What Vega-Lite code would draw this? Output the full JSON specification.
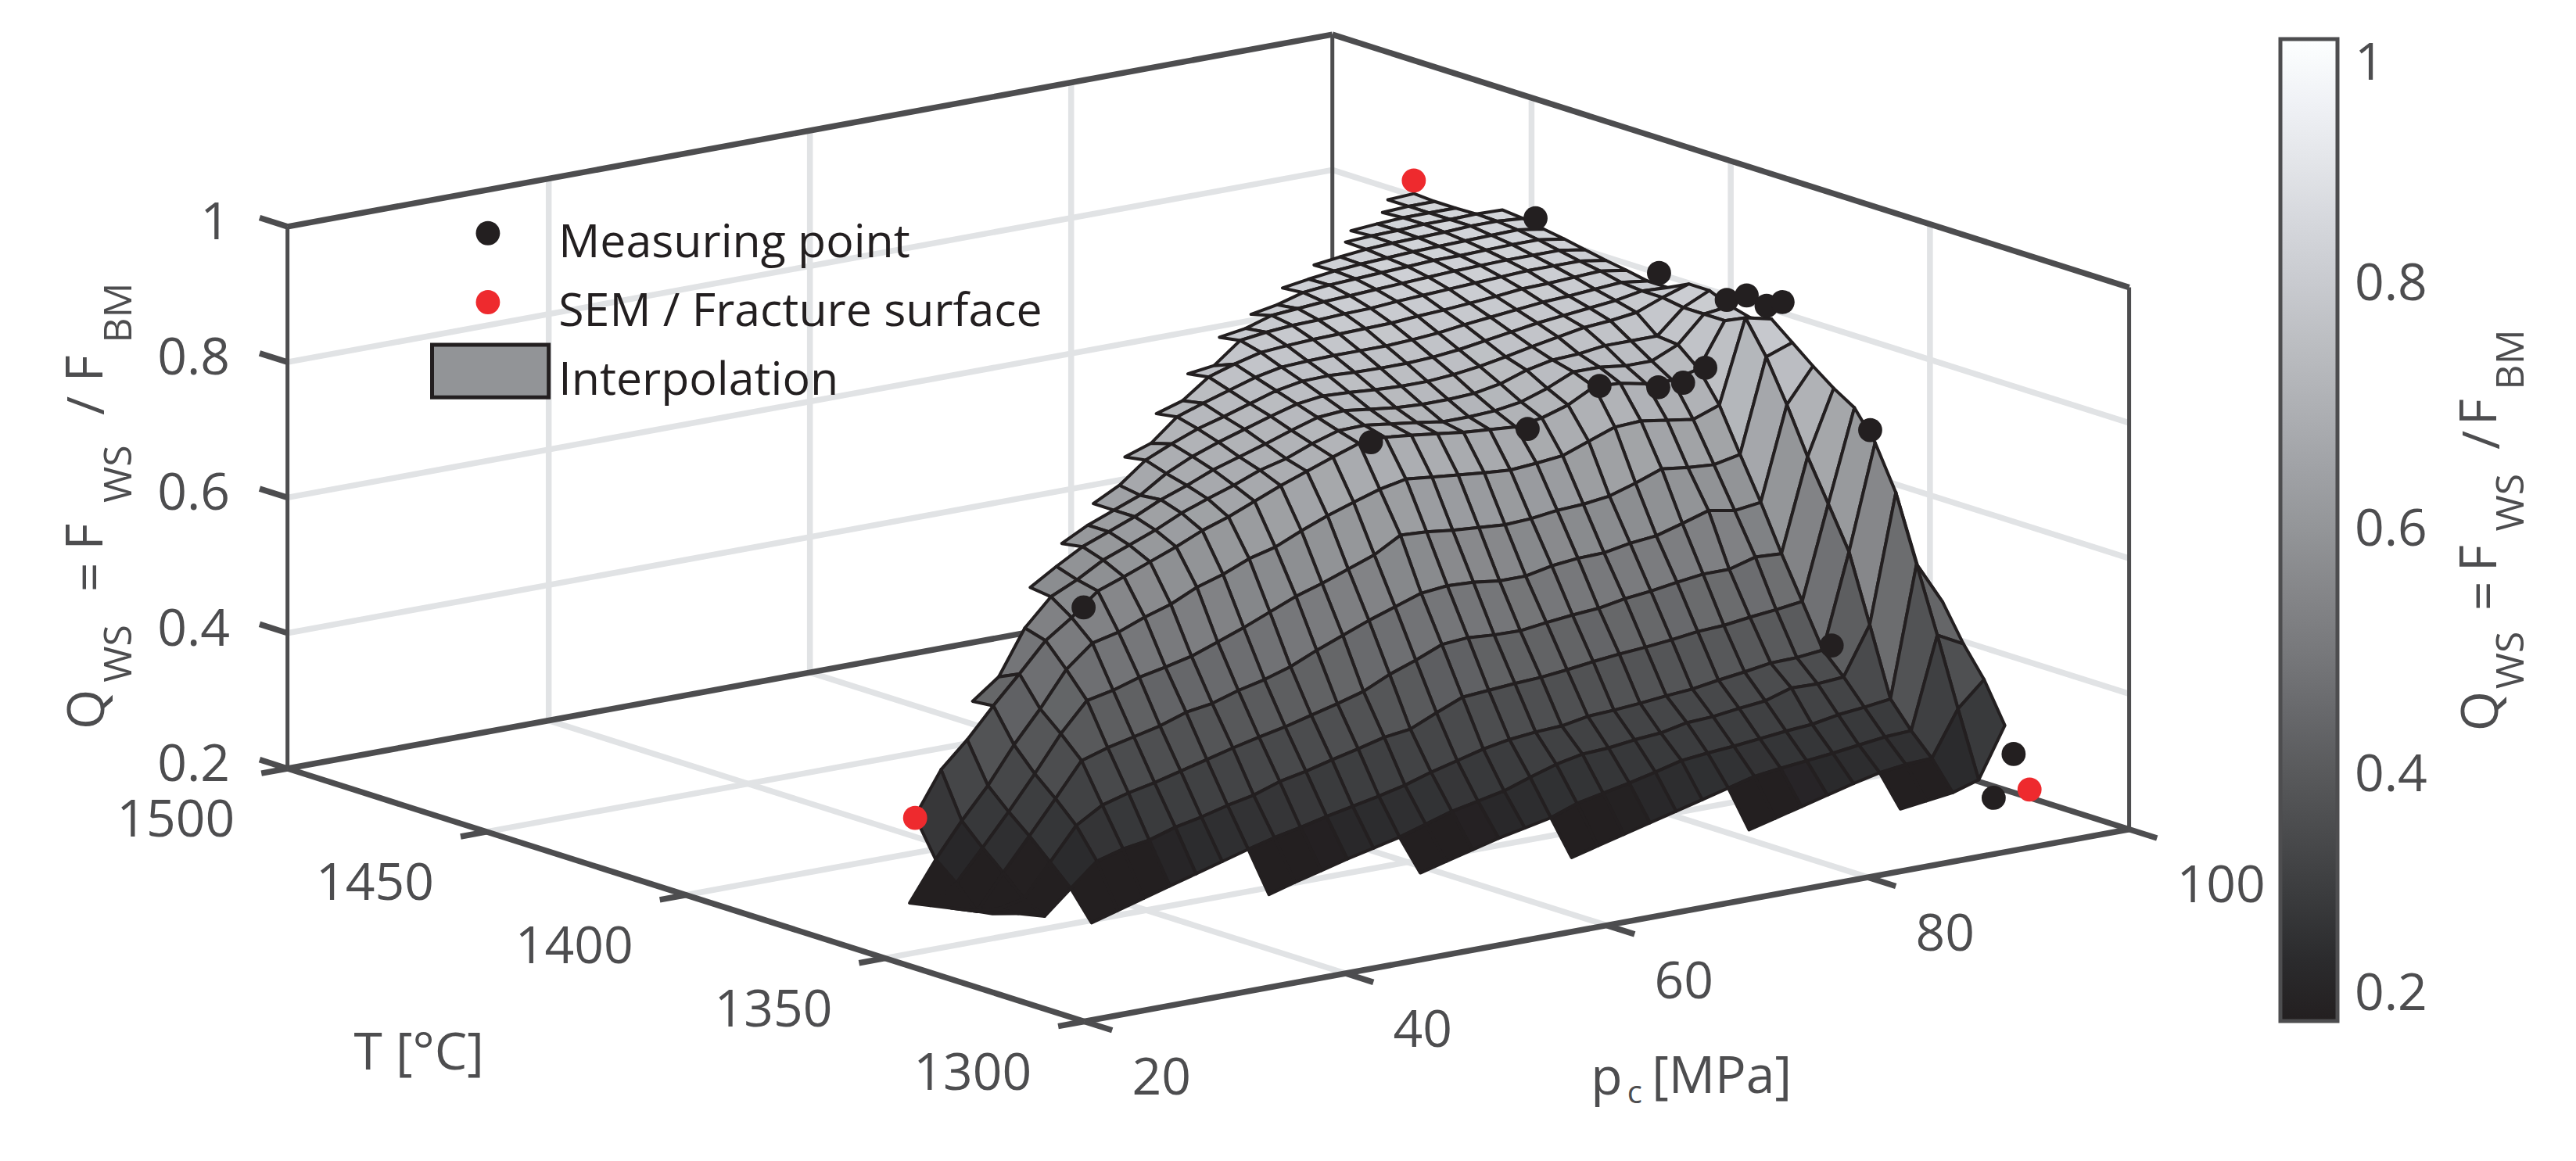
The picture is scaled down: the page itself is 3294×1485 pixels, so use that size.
{"$schema":"https://vega.github.io/schema/vega-lite/v6.json","width":3294,"height":1485,"padding":0,"autosize":{"type":"fit","contains":"padding"},"background":"white","config":{"axis":{"disable":true},"view":{"stroke":null},"text":{"font":"Open Sans"}},
"datasets":{
"surface":[
{"p":96,"T":1466.4,"Q":0.842},{"p":94,"T":1466.4,"Q":0.84},
{"p":96,"T":1461.2,"Q":0.84},{"p":94,"T":1461.2,"Q":0.84},{"p":92,"T":1461.2,"Q":0.838},
{"p":96,"T":1456,"Q":0.84},{"p":94,"T":1456,"Q":0.84},{"p":92,"T":1456,"Q":0.84},{"p":90,"T":1456,"Q":0.838},{"p":88,"T":1456,"Q":0.835},
{"p":98,"T":1450.8,"Q":0.84},{"p":96,"T":1450.8,"Q":0.841},{"p":94,"T":1450.8,"Q":0.84},{"p":92,"T":1450.8,"Q":0.84},{"p":90,"T":1450.8,"Q":0.838},{"p":88,"T":1450.8,"Q":0.837},{"p":86,"T":1450.8,"Q":0.835},
{"p":98,"T":1445.6,"Q":0.837},{"p":96,"T":1445.6,"Q":0.84},{"p":94,"T":1445.6,"Q":0.84},{"p":92,"T":1445.6,"Q":0.838},{"p":90,"T":1445.6,"Q":0.837},{"p":88,"T":1445.6,"Q":0.836},{"p":86,"T":1445.6,"Q":0.834},{"p":84,"T":1445.6,"Q":0.83},{"p":82,"T":1445.6,"Q":0.825},
{"p":98,"T":1440.4,"Q":0.831},{"p":96,"T":1440.4,"Q":0.837},{"p":94,"T":1440.4,"Q":0.836},{"p":92,"T":1440.4,"Q":0.835},{"p":90,"T":1440.4,"Q":0.834},{"p":88,"T":1440.4,"Q":0.833},{"p":86,"T":1440.4,"Q":0.831},{"p":84,"T":1440.4,"Q":0.829},{"p":82,"T":1440.4,"Q":0.826},{"p":80,"T":1440.4,"Q":0.821},{"p":78,"T":1440.4,"Q":0.815},
{"p":98,"T":1435.2,"Q":0.826},{"p":96,"T":1435.2,"Q":0.832},{"p":94,"T":1435.2,"Q":0.832},{"p":92,"T":1435.2,"Q":0.831},{"p":90,"T":1435.2,"Q":0.83},{"p":88,"T":1435.2,"Q":0.83},{"p":86,"T":1435.2,"Q":0.828},{"p":84,"T":1435.2,"Q":0.826},{"p":82,"T":1435.2,"Q":0.824},{"p":80,"T":1435.2,"Q":0.822},{"p":78,"T":1435.2,"Q":0.818},{"p":76,"T":1435.2,"Q":0.807},{"p":74,"T":1435.2,"Q":0.8},
{"p":98,"T":1430,"Q":0.82},{"p":96,"T":1430,"Q":0.826},{"p":94,"T":1430,"Q":0.826},{"p":92,"T":1430,"Q":0.826},{"p":90,"T":1430,"Q":0.825},{"p":88,"T":1430,"Q":0.824},{"p":86,"T":1430,"Q":0.822},{"p":84,"T":1430,"Q":0.82},{"p":82,"T":1430,"Q":0.818},{"p":80,"T":1430,"Q":0.816},{"p":78,"T":1430,"Q":0.814},{"p":76,"T":1430,"Q":0.811},{"p":74,"T":1430,"Q":0.808},{"p":72,"T":1430,"Q":0.796},{"p":70,"T":1430,"Q":0.79},
{"p":98,"T":1424.8,"Q":0.814},{"p":96,"T":1424.8,"Q":0.82},{"p":94,"T":1424.8,"Q":0.82},{"p":92,"T":1424.8,"Q":0.82},{"p":90,"T":1424.8,"Q":0.818},{"p":88,"T":1424.8,"Q":0.816},{"p":86,"T":1424.8,"Q":0.814},{"p":84,"T":1424.8,"Q":0.812},{"p":82,"T":1424.8,"Q":0.81},{"p":80,"T":1424.8,"Q":0.807},{"p":78,"T":1424.8,"Q":0.806},{"p":76,"T":1424.8,"Q":0.804},{"p":74,"T":1424.8,"Q":0.803},{"p":72,"T":1424.8,"Q":0.8},{"p":70,"T":1424.8,"Q":0.795},{"p":68,"T":1424.8,"Q":0.765},{"p":66,"T":1424.8,"Q":0.76},
{"p":98,"T":1419.6,"Q":0.809},{"p":96,"T":1419.6,"Q":0.815},{"p":94,"T":1419.6,"Q":0.813},{"p":92,"T":1419.6,"Q":0.811},{"p":90,"T":1419.6,"Q":0.81},{"p":88,"T":1419.6,"Q":0.806},{"p":86,"T":1419.6,"Q":0.803},{"p":84,"T":1419.6,"Q":0.8},{"p":82,"T":1419.6,"Q":0.798},{"p":80,"T":1419.6,"Q":0.795},{"p":78,"T":1419.6,"Q":0.794},{"p":76,"T":1419.6,"Q":0.793},{"p":74,"T":1419.6,"Q":0.792},{"p":72,"T":1419.6,"Q":0.79},{"p":70,"T":1419.6,"Q":0.787},{"p":68,"T":1419.6,"Q":0.777},{"p":66,"T":1419.6,"Q":0.765},{"p":64,"T":1419.6,"Q":0.737},{"p":62,"T":1419.6,"Q":0.725},
{"p":98,"T":1414.4,"Q":0.803},{"p":96,"T":1414.4,"Q":0.808},{"p":94,"T":1414.4,"Q":0.805},{"p":92,"T":1414.4,"Q":0.802},{"p":90,"T":1414.4,"Q":0.8},{"p":88,"T":1414.4,"Q":0.796},{"p":86,"T":1414.4,"Q":0.792},{"p":84,"T":1414.4,"Q":0.788},{"p":82,"T":1414.4,"Q":0.783},{"p":80,"T":1414.4,"Q":0.78},{"p":78,"T":1414.4,"Q":0.778},{"p":76,"T":1414.4,"Q":0.778},{"p":74,"T":1414.4,"Q":0.778},{"p":72,"T":1414.4,"Q":0.777},{"p":70,"T":1414.4,"Q":0.775},{"p":68,"T":1414.4,"Q":0.767},{"p":66,"T":1414.4,"Q":0.755},{"p":64,"T":1414.4,"Q":0.743},{"p":62,"T":1414.4,"Q":0.73},{"p":60,"T":1414.4,"Q":0.698},{"p":58,"T":1414.4,"Q":0.685},
{"p":98,"T":1409.2,"Q":0.803},{"p":96,"T":1409.2,"Q":0.805},{"p":94,"T":1409.2,"Q":0.798},{"p":92,"T":1409.2,"Q":0.794},{"p":90,"T":1409.2,"Q":0.79},{"p":88,"T":1409.2,"Q":0.786},{"p":86,"T":1409.2,"Q":0.78},{"p":84,"T":1409.2,"Q":0.774},{"p":82,"T":1409.2,"Q":0.768},{"p":80,"T":1409.2,"Q":0.764},{"p":78,"T":1409.2,"Q":0.762},{"p":76,"T":1409.2,"Q":0.762},{"p":74,"T":1409.2,"Q":0.763},{"p":72,"T":1409.2,"Q":0.765},{"p":70,"T":1409.2,"Q":0.764},{"p":68,"T":1409.2,"Q":0.757},{"p":66,"T":1409.2,"Q":0.745},{"p":64,"T":1409.2,"Q":0.733},{"p":62,"T":1409.2,"Q":0.722},{"p":60,"T":1409.2,"Q":0.707},{"p":58,"T":1409.2,"Q":0.69},{"p":56,"T":1409.2,"Q":0.66},{"p":54,"T":1409.2,"Q":0.64},
{"p":98,"T":1404,"Q":0.818},{"p":96,"T":1404,"Q":0.805},{"p":94,"T":1404,"Q":0.79},{"p":92,"T":1404,"Q":0.785},{"p":90,"T":1404,"Q":0.782},{"p":88,"T":1404,"Q":0.775},{"p":86,"T":1404,"Q":0.768},{"p":84,"T":1404,"Q":0.76},{"p":82,"T":1404,"Q":0.753},{"p":80,"T":1404,"Q":0.748},{"p":78,"T":1404,"Q":0.745},{"p":76,"T":1404,"Q":0.745},{"p":74,"T":1404,"Q":0.747},{"p":72,"T":1404,"Q":0.75},{"p":70,"T":1404,"Q":0.752},{"p":68,"T":1404,"Q":0.747},{"p":66,"T":1404,"Q":0.736},{"p":64,"T":1404,"Q":0.724},{"p":62,"T":1404,"Q":0.712},{"p":60,"T":1404,"Q":0.698},{"p":58,"T":1404,"Q":0.68},{"p":56,"T":1404,"Q":0.655},{"p":54,"T":1404,"Q":0.64},{"p":52,"T":1404,"Q":0.625},{"p":50,"T":1404,"Q":0.605},
{"p":98,"T":1398.8,"Q":0.818},{"p":96,"T":1398.8,"Q":0.8},{"p":94,"T":1398.8,"Q":0.765},{"p":92,"T":1398.8,"Q":0.765},{"p":90,"T":1398.8,"Q":0.765},{"p":88,"T":1398.8,"Q":0.76},{"p":86,"T":1398.8,"Q":0.758},{"p":84,"T":1398.8,"Q":0.75},{"p":82,"T":1398.8,"Q":0.737},{"p":80,"T":1398.8,"Q":0.73},{"p":78,"T":1398.8,"Q":0.728},{"p":76,"T":1398.8,"Q":0.728},{"p":74,"T":1398.8,"Q":0.73},{"p":72,"T":1398.8,"Q":0.735},{"p":70,"T":1398.8,"Q":0.74},{"p":68,"T":1398.8,"Q":0.737},{"p":66,"T":1398.8,"Q":0.725},{"p":64,"T":1398.8,"Q":0.712},{"p":62,"T":1398.8,"Q":0.7},{"p":60,"T":1398.8,"Q":0.688},{"p":58,"T":1398.8,"Q":0.672},{"p":56,"T":1398.8,"Q":0.658},{"p":54,"T":1398.8,"Q":0.64},{"p":52,"T":1398.8,"Q":0.625},{"p":50,"T":1398.8,"Q":0.61},{"p":48,"T":1398.8,"Q":0.588},{"p":46,"T":1398.8,"Q":0.564},
{"p":98,"T":1393.6,"Q":0.805},{"p":96,"T":1393.6,"Q":0.8},{"p":94,"T":1393.6,"Q":0.762},{"p":92,"T":1393.6,"Q":0.745},{"p":90,"T":1393.6,"Q":0.745},{"p":88,"T":1393.6,"Q":0.75},{"p":86,"T":1393.6,"Q":0.75},{"p":84,"T":1393.6,"Q":0.733},{"p":82,"T":1393.6,"Q":0.72},{"p":80,"T":1393.6,"Q":0.714},{"p":78,"T":1393.6,"Q":0.712},{"p":76,"T":1393.6,"Q":0.712},{"p":74,"T":1393.6,"Q":0.718},{"p":72,"T":1393.6,"Q":0.723},{"p":70,"T":1393.6,"Q":0.728},{"p":68,"T":1393.6,"Q":0.727},{"p":66,"T":1393.6,"Q":0.715},{"p":64,"T":1393.6,"Q":0.7},{"p":62,"T":1393.6,"Q":0.69},{"p":60,"T":1393.6,"Q":0.675},{"p":58,"T":1393.6,"Q":0.662},{"p":56,"T":1393.6,"Q":0.648},{"p":54,"T":1393.6,"Q":0.63},{"p":52,"T":1393.6,"Q":0.615},{"p":50,"T":1393.6,"Q":0.6},{"p":48,"T":1393.6,"Q":0.578},{"p":46,"T":1393.6,"Q":0.56},{"p":44,"T":1393.6,"Q":0.521},{"p":42,"T":1393.6,"Q":0.456},{"p":40,"T":1393.6,"Q":0.427},
{"p":98,"T":1388.4,"Q":0.797},{"p":96,"T":1388.4,"Q":0.8},{"p":94,"T":1388.4,"Q":0.736},{"p":92,"T":1388.4,"Q":0.726},{"p":90,"T":1388.4,"Q":0.728},{"p":88,"T":1388.4,"Q":0.736},{"p":86,"T":1388.4,"Q":0.738},{"p":84,"T":1388.4,"Q":0.718},{"p":82,"T":1388.4,"Q":0.706},{"p":80,"T":1388.4,"Q":0.7},{"p":78,"T":1388.4,"Q":0.703},{"p":76,"T":1388.4,"Q":0.706},{"p":74,"T":1388.4,"Q":0.711},{"p":72,"T":1388.4,"Q":0.716},{"p":70,"T":1388.4,"Q":0.72},{"p":68,"T":1388.4,"Q":0.718},{"p":66,"T":1388.4,"Q":0.705},{"p":64,"T":1388.4,"Q":0.691},{"p":62,"T":1388.4,"Q":0.677},{"p":60,"T":1388.4,"Q":0.661},{"p":58,"T":1388.4,"Q":0.645},{"p":56,"T":1388.4,"Q":0.632},{"p":54,"T":1388.4,"Q":0.615},{"p":52,"T":1388.4,"Q":0.6},{"p":50,"T":1388.4,"Q":0.585},{"p":48,"T":1388.4,"Q":0.571},{"p":46,"T":1388.4,"Q":0.539},{"p":44,"T":1388.4,"Q":0.512},{"p":42,"T":1388.4,"Q":0.47},{"p":40,"T":1388.4,"Q":0.43},{"p":38,"T":1388.4,"Q":0.387},{"p":36,"T":1388.4,"Q":0.35},{"p":34,"T":1388.4,"Q":0.288},
{"p":98,"T":1383.2,"Q":0.805},{"p":96,"T":1383.2,"Q":0.814},{"p":94,"T":1383.2,"Q":0.692},{"p":92,"T":1383.2,"Q":0.678},{"p":90,"T":1383.2,"Q":0.684},{"p":88,"T":1383.2,"Q":0.69},{"p":86,"T":1383.2,"Q":0.688},{"p":84,"T":1383.2,"Q":0.674},{"p":82,"T":1383.2,"Q":0.66},{"p":80,"T":1383.2,"Q":0.656},{"p":78,"T":1383.2,"Q":0.653},{"p":76,"T":1383.2,"Q":0.656},{"p":74,"T":1383.2,"Q":0.66},{"p":72,"T":1383.2,"Q":0.664},{"p":70,"T":1383.2,"Q":0.668},{"p":68,"T":1383.2,"Q":0.66},{"p":66,"T":1383.2,"Q":0.648},{"p":64,"T":1383.2,"Q":0.635},{"p":62,"T":1383.2,"Q":0.62},{"p":60,"T":1383.2,"Q":0.603},{"p":58,"T":1383.2,"Q":0.593},{"p":56,"T":1383.2,"Q":0.577},{"p":54,"T":1383.2,"Q":0.565},{"p":52,"T":1383.2,"Q":0.547},{"p":50,"T":1383.2,"Q":0.535},{"p":48,"T":1383.2,"Q":0.52},{"p":46,"T":1383.2,"Q":0.511},{"p":44,"T":1383.2,"Q":0.479},{"p":42,"T":1383.2,"Q":0.428},{"p":40,"T":1383.2,"Q":0.382},{"p":38,"T":1383.2,"Q":0.329},{"p":36,"T":1383.2,"Q":0.284},{"p":34,"T":1383.2,"Q":0.234},{"p":32,"T":1383.2,"Q":0.177},
{"p":98,"T":1378,"Q":0.78},{"p":96,"T":1378,"Q":0.766},{"p":94,"T":1378,"Q":0.629},{"p":92,"T":1378,"Q":0.621},{"p":90,"T":1378,"Q":0.624},{"p":88,"T":1378,"Q":0.629},{"p":86,"T":1378,"Q":0.615},{"p":84,"T":1378,"Q":0.603},{"p":82,"T":1378,"Q":0.598},{"p":80,"T":1378,"Q":0.596},{"p":78,"T":1378,"Q":0.591},{"p":76,"T":1378,"Q":0.589},{"p":74,"T":1378,"Q":0.592},{"p":72,"T":1378,"Q":0.595},{"p":70,"T":1378,"Q":0.6},{"p":68,"T":1378,"Q":0.602},{"p":66,"T":1378,"Q":0.58},{"p":64,"T":1378,"Q":0.566},{"p":62,"T":1378,"Q":0.552},{"p":60,"T":1378,"Q":0.54},{"p":58,"T":1378,"Q":0.524},{"p":56,"T":1378,"Q":0.508},{"p":54,"T":1378,"Q":0.494},{"p":52,"T":1378,"Q":0.48},{"p":50,"T":1378,"Q":0.471},{"p":48,"T":1378,"Q":0.463},{"p":46,"T":1378,"Q":0.451},{"p":44,"T":1378,"Q":0.443},{"p":42,"T":1378,"Q":0.401},{"p":40,"T":1378,"Q":0.349},{"p":38,"T":1378,"Q":0.3},{"p":36,"T":1378,"Q":0.254},{"p":34,"T":1378,"Q":0.209},{"p":32,"T":1378,"Q":0.183},
{"p":98,"T":1372.8,"Q":0.755},{"p":96,"T":1372.8,"Q":0.705},{"p":94,"T":1372.8,"Q":0.568},{"p":92,"T":1372.8,"Q":0.563},{"p":90,"T":1372.8,"Q":0.57},{"p":88,"T":1372.8,"Q":0.558},{"p":86,"T":1372.8,"Q":0.547},{"p":84,"T":1372.8,"Q":0.543},{"p":82,"T":1372.8,"Q":0.536},{"p":80,"T":1372.8,"Q":0.535},{"p":78,"T":1372.8,"Q":0.531},{"p":76,"T":1372.8,"Q":0.523},{"p":74,"T":1372.8,"Q":0.523},{"p":72,"T":1372.8,"Q":0.528},{"p":70,"T":1372.8,"Q":0.53},{"p":68,"T":1372.8,"Q":0.526},{"p":66,"T":1372.8,"Q":0.513},{"p":64,"T":1372.8,"Q":0.5},{"p":62,"T":1372.8,"Q":0.485},{"p":60,"T":1372.8,"Q":0.47},{"p":58,"T":1372.8,"Q":0.453},{"p":56,"T":1372.8,"Q":0.441},{"p":54,"T":1372.8,"Q":0.432},{"p":52,"T":1372.8,"Q":0.42},{"p":50,"T":1372.8,"Q":0.414},{"p":48,"T":1372.8,"Q":0.401},{"p":46,"T":1372.8,"Q":0.392},{"p":44,"T":1372.8,"Q":0.383},{"p":42,"T":1372.8,"Q":0.371},{"p":40,"T":1372.8,"Q":0.322},{"p":38,"T":1372.8,"Q":0.274},{"p":36,"T":1372.8,"Q":0.227},{"p":34,"T":1372.8,"Q":0.177},{"p":32,"T":1372.8,"Q":0.189},
{"p":98,"T":1367.6,"Q":0.732},{"p":96,"T":1367.6,"Q":0.638},{"p":94,"T":1367.6,"Q":0.502},{"p":92,"T":1367.6,"Q":0.504},{"p":90,"T":1367.6,"Q":0.493},{"p":88,"T":1367.6,"Q":0.493},{"p":86,"T":1367.6,"Q":0.488},{"p":84,"T":1367.6,"Q":0.482},{"p":82,"T":1367.6,"Q":0.478},{"p":80,"T":1367.6,"Q":0.471},{"p":78,"T":1367.6,"Q":0.468},{"p":76,"T":1367.6,"Q":0.464},{"p":74,"T":1367.6,"Q":0.459},{"p":72,"T":1367.6,"Q":0.46},{"p":70,"T":1367.6,"Q":0.463},{"p":68,"T":1367.6,"Q":0.46},{"p":66,"T":1367.6,"Q":0.444},{"p":64,"T":1367.6,"Q":0.43},{"p":62,"T":1367.6,"Q":0.412},{"p":60,"T":1367.6,"Q":0.401},{"p":58,"T":1367.6,"Q":0.391},{"p":56,"T":1367.6,"Q":0.381},{"p":54,"T":1367.6,"Q":0.373},{"p":52,"T":1367.6,"Q":0.364},{"p":50,"T":1367.6,"Q":0.354},{"p":48,"T":1367.6,"Q":0.344},{"p":46,"T":1367.6,"Q":0.334},{"p":44,"T":1367.6,"Q":0.326},{"p":42,"T":1367.6,"Q":0.315},{"p":40,"T":1367.6,"Q":0.292},{"p":38,"T":1367.6,"Q":0.245},{"p":36,"T":1367.6,"Q":0.198},{"p":34,"T":1367.6,"Q":0.19},{"p":32,"T":1367.6,"Q":0.195},
{"p":98,"T":1362.4,"Q":0.713},{"p":96,"T":1362.4,"Q":0.578},{"p":94,"T":1362.4,"Q":0.441},{"p":92,"T":1362.4,"Q":0.436},{"p":90,"T":1362.4,"Q":0.432},{"p":88,"T":1362.4,"Q":0.427},{"p":86,"T":1362.4,"Q":0.425},{"p":84,"T":1362.4,"Q":0.42},{"p":82,"T":1362.4,"Q":0.416},{"p":80,"T":1362.4,"Q":0.413},{"p":78,"T":1362.4,"Q":0.409},{"p":76,"T":1362.4,"Q":0.404},{"p":74,"T":1362.4,"Q":0.4},{"p":72,"T":1362.4,"Q":0.398},{"p":70,"T":1362.4,"Q":0.395},{"p":68,"T":1362.4,"Q":0.392},{"p":66,"T":1362.4,"Q":0.376},{"p":64,"T":1362.4,"Q":0.359},{"p":62,"T":1362.4,"Q":0.354},{"p":60,"T":1362.4,"Q":0.344},{"p":58,"T":1362.4,"Q":0.335},{"p":56,"T":1362.4,"Q":0.325},{"p":54,"T":1362.4,"Q":0.317},{"p":52,"T":1362.4,"Q":0.304},{"p":50,"T":1362.4,"Q":0.296},{"p":48,"T":1362.4,"Q":0.286},{"p":46,"T":1362.4,"Q":0.278},{"p":44,"T":1362.4,"Q":0.266},{"p":42,"T":1362.4,"Q":0.26},{"p":40,"T":1362.4,"Q":0.249},{"p":38,"T":1362.4,"Q":0.216},{"p":36,"T":1362.4,"Q":0.182},{"p":34,"T":1362.4,"Q":0.193},{"p":32,"T":1362.4,"Q":0.2},
{"p":98,"T":1357.2,"Q":0.671},{"p":96,"T":1357.2,"Q":0.517},{"p":94,"T":1357.2,"Q":0.379},{"p":92,"T":1357.2,"Q":0.375},{"p":90,"T":1357.2,"Q":0.374},{"p":88,"T":1357.2,"Q":0.368},{"p":86,"T":1357.2,"Q":0.363},{"p":84,"T":1357.2,"Q":0.357},{"p":82,"T":1357.2,"Q":0.354},{"p":80,"T":1357.2,"Q":0.35},{"p":78,"T":1357.2,"Q":0.347},{"p":76,"T":1357.2,"Q":0.345},{"p":74,"T":1357.2,"Q":0.338},{"p":72,"T":1357.2,"Q":0.336},{"p":70,"T":1357.2,"Q":0.332},{"p":68,"T":1357.2,"Q":0.325},{"p":66,"T":1357.2,"Q":0.315},{"p":64,"T":1357.2,"Q":0.305},{"p":62,"T":1357.2,"Q":0.293},{"p":60,"T":1357.2,"Q":0.284},{"p":58,"T":1357.2,"Q":0.276},{"p":56,"T":1357.2,"Q":0.268},{"p":54,"T":1357.2,"Q":0.259},{"p":52,"T":1357.2,"Q":0.251},{"p":50,"T":1357.2,"Q":0.241},{"p":48,"T":1357.2,"Q":0.23},{"p":46,"T":1357.2,"Q":0.219},{"p":44,"T":1357.2,"Q":0.208},{"p":42,"T":1357.2,"Q":0.197},{"p":40,"T":1357.2,"Q":0.186},{"p":38,"T":1357.2,"Q":0.175},
{"p":100,"T":1352,"Q":0.47},{"p":98,"T":1352,"Q":0.607},{"p":96,"T":1352,"Q":0.419},{"p":94,"T":1352,"Q":0.349},{"p":92,"T":1352,"Q":0.346},{"p":90,"T":1352,"Q":0.347},{"p":88,"T":1352,"Q":0.335},{"p":86,"T":1352,"Q":0.331},{"p":84,"T":1352,"Q":0.326},{"p":82,"T":1352,"Q":0.324},{"p":80,"T":1352,"Q":0.316},{"p":78,"T":1352,"Q":0.313},{"p":76,"T":1352,"Q":0.308},{"p":74,"T":1352,"Q":0.306},{"p":72,"T":1352,"Q":0.298},{"p":70,"T":1352,"Q":0.286},{"p":68,"T":1352,"Q":0.273},{"p":66,"T":1352,"Q":0.265},{"p":64,"T":1352,"Q":0.257},{"p":62,"T":1352,"Q":0.245},{"p":60,"T":1352,"Q":0.233},{"p":58,"T":1352,"Q":0.224},{"p":56,"T":1352,"Q":0.215},{"p":54,"T":1352,"Q":0.205},{"p":52,"T":1352,"Q":0.195},{"p":50,"T":1352,"Q":0.184},
{"p":100,"T":1346.8,"Q":0.448},{"p":98,"T":1346.8,"Q":0.511},{"p":96,"T":1346.8,"Q":0.319},{"p":94,"T":1346.8,"Q":0.314},{"p":92,"T":1346.8,"Q":0.31},{"p":90,"T":1346.8,"Q":0.303},{"p":88,"T":1346.8,"Q":0.3},{"p":86,"T":1346.8,"Q":0.296},{"p":84,"T":1346.8,"Q":0.292},{"p":82,"T":1346.8,"Q":0.289},{"p":80,"T":1346.8,"Q":0.285},{"p":78,"T":1346.8,"Q":0.275},{"p":76,"T":1346.8,"Q":0.266},{"p":74,"T":1346.8,"Q":0.258},{"p":72,"T":1346.8,"Q":0.25},{"p":70,"T":1346.8,"Q":0.236},{"p":68,"T":1346.8,"Q":0.228},{"p":66,"T":1346.8,"Q":0.22},{"p":64,"T":1346.8,"Q":0.21},{"p":62,"T":1346.8,"Q":0.2},{"p":60,"T":1346.8,"Q":0.19},
{"p":100,"T":1341.6,"Q":0.396},{"p":98,"T":1341.6,"Q":0.416},{"p":96,"T":1341.6,"Q":0.282},{"p":94,"T":1341.6,"Q":0.28},{"p":92,"T":1341.6,"Q":0.275},{"p":90,"T":1341.6,"Q":0.27},{"p":88,"T":1341.6,"Q":0.266},{"p":86,"T":1341.6,"Q":0.262},{"p":84,"T":1341.6,"Q":0.257},{"p":82,"T":1341.6,"Q":0.247},{"p":80,"T":1341.6,"Q":0.237},{"p":78,"T":1341.6,"Q":0.227},{"p":76,"T":1341.6,"Q":0.217},{"p":74,"T":1341.6,"Q":0.207},{"p":72,"T":1341.6,"Q":0.197},{"p":70,"T":1341.6,"Q":0.187},
{"p":100,"T":1336.4,"Q":0.353},{"p":98,"T":1336.4,"Q":0.317},{"p":96,"T":1336.4,"Q":0.251},{"p":94,"T":1336.4,"Q":0.249},{"p":92,"T":1336.4,"Q":0.244},{"p":90,"T":1336.4,"Q":0.235},{"p":88,"T":1336.4,"Q":0.225},{"p":86,"T":1336.4,"Q":0.215},{"p":84,"T":1336.4,"Q":0.205},{"p":82,"T":1336.4,"Q":0.195},
{"p":100,"T":1331.2,"Q":0.295},{"p":98,"T":1331.2,"Q":0.222},{"p":96,"T":1331.2,"Q":0.21},{"p":94,"T":1331.2,"Q":0.205},{"p":92,"T":1331.2,"Q":0.2}
],
"skirt":[
{"g":"s1","p":40,"T":1393.6,"Q":0.427},{"g":"s1","p":46,"T":1393.6,"Q":0.56},{"g":"s1","p":46,"T":1398.8,"Q":0.564},
{"g":"s2","p":46,"T":1398.8,"Q":0.564},{"g":"s2","p":50,"T":1398.8,"Q":0.61},{"g":"s2","p":50,"T":1404,"Q":0.605},
{"g":"s3","p":50,"T":1404,"Q":0.605},{"g":"s3","p":54,"T":1404,"Q":0.64},{"g":"s3","p":54,"T":1409.2,"Q":0.64},
{"g":"s4","p":54,"T":1409.2,"Q":0.64},{"g":"s4","p":58,"T":1409.2,"Q":0.69},{"g":"s4","p":58,"T":1414.4,"Q":0.685},
{"g":"s5","p":58,"T":1414.4,"Q":0.685},{"g":"s5","p":62,"T":1414.4,"Q":0.73},{"g":"s5","p":62,"T":1419.6,"Q":0.725},
{"g":"s6","p":62,"T":1419.6,"Q":0.725},{"g":"s6","p":66,"T":1419.6,"Q":0.765},{"g":"s6","p":66,"T":1424.8,"Q":0.76},
{"g":"s7","p":66,"T":1424.8,"Q":0.76},{"g":"s7","p":70,"T":1424.8,"Q":0.795},{"g":"s7","p":70,"T":1430,"Q":0.79},
{"g":"s8","p":70,"T":1430,"Q":0.79},{"g":"s8","p":74,"T":1430,"Q":0.808},{"g":"s8","p":74,"T":1435.2,"Q":0.8},
{"g":"s9","p":74,"T":1435.2,"Q":0.8},{"g":"s9","p":78,"T":1435.2,"Q":0.818},{"g":"s9","p":78,"T":1440.4,"Q":0.815},
{"g":"s10","p":78,"T":1440.4,"Q":0.815},{"g":"s10","p":82,"T":1440.4,"Q":0.826},{"g":"s10","p":82,"T":1445.6,"Q":0.825},
{"g":"s11","p":82,"T":1445.6,"Q":0.825},{"g":"s11","p":86,"T":1445.6,"Q":0.834},{"g":"s11","p":86,"T":1450.8,"Q":0.835},
{"g":"s12","p":86,"T":1450.8,"Q":0.835},{"g":"s12","p":88,"T":1450.8,"Q":0.837},{"g":"s12","p":88,"T":1456,"Q":0.835},
{"g":"s13","p":88,"T":1456,"Q":0.835},{"g":"s13","p":92,"T":1456,"Q":0.84},{"g":"s13","p":92,"T":1461.2,"Q":0.838},
{"g":"s14","p":92,"T":1461.2,"Q":0.838},{"g":"s14","p":94,"T":1461.2,"Q":0.84},{"g":"s14","p":94,"T":1466.4,"Q":0.84}
],
"grid":[
{"g":"f1","p":40,"T":1300,"Q":0.2},{"g":"f1","p":40,"T":1500,"Q":0.2},{"g":"f2","p":60,"T":1300,"Q":0.2},{"g":"f2","p":60,"T":1500,"Q":0.2},{"g":"f3","p":80,"T":1300,"Q":0.2},{"g":"f3","p":80,"T":1500,"Q":0.2},
{"g":"f4","p":20,"T":1350,"Q":0.2},{"g":"f4","p":100,"T":1350,"Q":0.2},{"g":"f5","p":20,"T":1400,"Q":0.2},{"g":"f5","p":100,"T":1400,"Q":0.2},{"g":"f6","p":20,"T":1450,"Q":0.2},{"g":"f6","p":100,"T":1450,"Q":0.2},
{"g":"b1","p":40,"T":1500,"Q":0.2},{"g":"b1","p":40,"T":1500,"Q":1},{"g":"b2","p":60,"T":1500,"Q":0.2},{"g":"b2","p":60,"T":1500,"Q":1},{"g":"b3","p":80,"T":1500,"Q":0.2},{"g":"b3","p":80,"T":1500,"Q":1},
{"g":"b4","p":20,"T":1500,"Q":0.4},{"g":"b4","p":100,"T":1500,"Q":0.4},{"g":"b5","p":20,"T":1500,"Q":0.6},{"g":"b5","p":100,"T":1500,"Q":0.6},{"g":"b6","p":20,"T":1500,"Q":0.8},{"g":"b6","p":100,"T":1500,"Q":0.8},
{"g":"r1","p":100,"T":1350,"Q":0.2},{"g":"r1","p":100,"T":1350,"Q":1},{"g":"r2","p":100,"T":1400,"Q":0.2},{"g":"r2","p":100,"T":1400,"Q":1},{"g":"r3","p":100,"T":1450,"Q":0.2},{"g":"r3","p":100,"T":1450,"Q":1},
{"g":"r4","p":100,"T":1300,"Q":0.4},{"g":"r4","p":100,"T":1500,"Q":0.4},{"g":"r5","p":100,"T":1300,"Q":0.6},{"g":"r5","p":100,"T":1500,"Q":0.6},{"g":"r6","p":100,"T":1300,"Q":0.8},{"g":"r6","p":100,"T":1500,"Q":0.8}
],
"frame":[
{"g":"a","p":20,"T":1500,"Q":1},{"g":"a","p":100,"T":1500,"Q":1},{"g":"b","p":100,"T":1500,"Q":1},{"g":"b","p":100,"T":1300,"Q":1},
{"g":"c","p":20,"T":1500,"Q":0.2},{"g":"c","p":20,"T":1300,"Q":0.2},{"g":"d","p":20,"T":1300,"Q":0.2},{"g":"d","p":100,"T":1300,"Q":0.2},{"g":"e","p":100,"T":1300,"Q":0.2},{"g":"e","p":100,"T":1500,"Q":0.2},{"g":"f","p":100,"T":1500,"Q":0.2},{"g":"f","p":20,"T":1500,"Q":0.2},
{"g":"t1","p":20,"T":1300,"Q":0.2},{"g":"t1","p":18,"T":1300,"Q":0.2},{"g":"t2","p":20,"T":1350,"Q":0.2},{"g":"t2","p":18,"T":1350,"Q":0.2},{"g":"t3","p":20,"T":1400,"Q":0.2},{"g":"t3","p":18,"T":1400,"Q":0.2},{"g":"t4","p":20,"T":1450,"Q":0.2},{"g":"t4","p":18,"T":1450,"Q":0.2},{"g":"t5","p":20,"T":1500,"Q":0.2},{"g":"t5","p":18,"T":1500,"Q":0.2},
{"g":"u1","p":20,"T":1300,"Q":0.2},{"g":"u1","p":20,"T":1293,"Q":0.2},{"g":"u2","p":40,"T":1300,"Q":0.2},{"g":"u2","p":40,"T":1293,"Q":0.2},{"g":"u3","p":60,"T":1300,"Q":0.2},{"g":"u3","p":60,"T":1293,"Q":0.2},{"g":"u4","p":80,"T":1300,"Q":0.2},{"g":"u4","p":80,"T":1293,"Q":0.2},{"g":"u5","p":100,"T":1300,"Q":0.2},{"g":"u5","p":100,"T":1293,"Q":0.2},
{"g":"z1","p":20,"T":1500,"Q":0.2},{"g":"z1","p":20,"T":1507,"Q":0.2},{"g":"z2","p":20,"T":1500,"Q":0.4},{"g":"z2","p":20,"T":1507,"Q":0.4},{"g":"z3","p":20,"T":1500,"Q":0.6},{"g":"z3","p":20,"T":1507,"Q":0.6},{"g":"z4","p":20,"T":1500,"Q":0.8},{"g":"z4","p":20,"T":1507,"Q":0.8},{"g":"z5","p":20,"T":1500,"Q":1},{"g":"z5","p":20,"T":1507,"Q":1}
],
"posts":[
{"g":"a","p":20,"T":1500,"Q":0.2},{"g":"a","p":20,"T":1500,"Q":1},{"g":"b","p":100,"T":1500,"Q":0.2},{"g":"b","p":100,"T":1500,"Q":1},{"g":"c","p":100,"T":1300,"Q":0.2},{"g":"c","p":100,"T":1300,"Q":1}
],
"tempTicks":[{"T":1300},{"T":1350},{"T":1400},{"T":1450},{"T":1500}],
"presTicks":[{"p":20},{"p":40},{"p":60},{"p":80},{"p":100}],
"qTicks":[{"Q":0.2},{"Q":0.4},{"Q":0.6},{"Q":0.8},{"Q":1}],
"points":[
{"kind":"Measuring point","p":100,"T":1449,"Q":0.824},{"kind":"Measuring point","p":100,"T":1418,"Q":0.801},{"kind":"Measuring point","p":100,"T":1401,"Q":0.793},{"kind":"Measuring point","p":100,"T":1396,"Q":0.809},{"kind":"Measuring point","p":100,"T":1391,"Q":0.803},{"kind":"Measuring point","p":100,"T":1387,"Q":0.816},{"kind":"Measuring point","p":100,"T":1365,"Q":0.668},
{"kind":"Measuring point","p":95,"T":1390,"Q":0.731},{"kind":"Measuring point","p":93.3,"T":1390,"Q":0.715},{"kind":"Measuring point","p":91.4,"T":1390,"Q":0.715},{"kind":"Measuring point","p":86.9,"T":1390,"Q":0.733},{"kind":"Measuring point","p":81.4,"T":1390,"Q":0.689},{"kind":"Measuring point","p":69.4,"T":1390,"Q":0.712},{"kind":"Measuring point","p":47.4,"T":1390,"Q":0.546},{"kind":"Measuring point","p":94,"T":1355,"Q":0.39},{"kind":"Measuring point","p":100,"T":1329,"Q":0.257},{"kind":"Measuring point","p":100,"T":1334,"Q":0.183},
{"kind":"SEM / Fracture surface","p":98,"T":1473,"Q":0.842},{"kind":"SEM / Fracture surface","p":28.4,"T":1370,"Q":0.34},{"kind":"SEM / Fracture surface","p":100,"T":1325,"Q":0.212}
]
},
"encoding":{"x":{"field":"u","type":"quantitative","scale":{"domain":[0,1568],"nice":false,"zero":false},"axis":null},"y":{"field":"v","type":"quantitative","scale":{"domain":[707,0],"nice":false,"zero":false},"axis":null}},
"layer":[
{"data":{"name":"grid"},"transform":[{"calculate":"660+7.95*(datum.p-20)-2.425*(datum.T-1300)","as":"u"},{"calculate":"622-1.4625*(datum.p-20)-0.77*(datum.T-1300)-412.5*(datum.Q-0.2)","as":"v"}],"mark":{"type":"line","stroke":"#e1e3e5","strokeWidth":7.5},"encoding":{"detail":{"field":"g"}}},
{"data":{"name":"frame"},"transform":[{"calculate":"660+7.95*(datum.p-20)-2.425*(datum.T-1300)","as":"u"},{"calculate":"622-1.4625*(datum.p-20)-0.77*(datum.T-1300)-412.5*(datum.Q-0.2)","as":"v"}],"mark":{"type":"line","stroke":"#4d4d4f","strokeWidth":7.5},"encoding":{"detail":{"field":"g"}}},
{"data":{"name":"posts"},"transform":[{"calculate":"660+7.95*(datum.p-20)-2.425*(datum.T-1300)","as":"u"},{"calculate":"622-1.4625*(datum.p-20)-0.77*(datum.T-1300)-412.5*(datum.Q-0.2)","as":"v"}],"mark":{"type":"line","stroke":"#4d4d4f","strokeWidth":5},"encoding":{"detail":{"field":"g"}}},
{"data":{"name":"skirt"},"transform":[{"calculate":"660+7.95*(datum.p-20)-2.425*(datum.T-1300)","as":"u"},{"calculate":"622-1.4625*(datum.p-20)-0.77*(datum.T-1300)-412.5*(datum.Q-0.2)","as":"v"}],"mark":{"type":"line","interpolate":"linear-closed","strokeWidth":0},"encoding":{"detail":{"field":"g"},"order":{"field":"T"},"fill":{"field":"Q","type":"quantitative"}}},
{"data":{"name":"surface"},"transform":[
{"calculate":"660+7.95*(datum.p-20)-2.425*(datum.T-1300)","as":"u"},{"calculate":"622-1.4625*(datum.p-20)-0.77*(datum.T-1300)-412.5*(datum.Q-0.2)","as":"v"},
{"window":[{"op":"lead","field":"u","as":"u1"},{"op":"lead","field":"v","as":"v1"},{"op":"lead","field":"Q","as":"Q1"}],"groupby":["T"],"sort":[{"field":"p","order":"ascending"}]},
{"window":[{"op":"lead","field":"u","as":"u2"},{"op":"lead","field":"v","as":"v2"},{"op":"lead","field":"Q","as":"Q2"},{"op":"lead","field":"u1","as":"u3"},{"op":"lead","field":"v1","as":"v3"},{"op":"lead","field":"Q1","as":"Q3"}],"groupby":["p"],"sort":[{"field":"T","order":"ascending"}]},
{"filter":"isValid(datum.u1) && isValid(datum.u2) && isValid(datum.u3)"},
{"calculate":"(datum.Q+datum.Q1+datum.Q2+datum.Q3)/4","as":"m"},
{"calculate":"datum.p+'_'+datum.T","as":"k"},
{"calculate":"[datum.u,datum.u1,datum.u3,datum.u2]","as":"us"},
{"calculate":"[datum.v,datum.v1,datum.v3,datum.v2]","as":"vs"},
{"calculate":"[0,1,2,3]","as":"o"},
{"flatten":["us","vs","o"]}
],"mark":{"type":"line","interpolate":"linear-closed","stroke":"#231f20","strokeWidth":4,"strokeJoin":"round"},
"encoding":{"x":{"field":"us","type":"quantitative"},"y":{"field":"vs","type":"quantitative"},"detail":{"field":"k"},"order":{"field":"o"},
"fill":{"field":"m","type":"quantitative","scale":{"domain":[0.2,0.235,0.25,0.3,0.4,0.5,0.6,0.7,0.8,0.9,1],"range":["#231f20","#231f20","#2b2b2d","#3a3b3d","#58595b","#77787b","#939598","#aeb0b4","#c8cacf","#e3e5e9","#ffffff"]},"legend":{"orient":"none","legendX":2916,"legendY":50,"gradientLength":1256,"gradientThickness":73,"title":null,"values":[0.2,0.4,0.6,0.8,1],"labelFont":"Open Sans","labelFontSize":66,"labelColor":"#4d4d4f","labelOffset":22,"labelOverlap":false,"labelBaseline":"middle","gradientStrokeColor":"#4d4d4f","gradientStrokeWidth":5,"labelExpr":"datum.value==1?'1':format(datum.value,'.1f')"}}}},
{"data":{"name":"points"},"transform":[{"calculate":"660+7.95*(datum.p-20)-2.425*(datum.T-1300)","as":"u"},{"calculate":"622-1.4625*(datum.p-20)-0.77*(datum.T-1300)-412.5*(datum.Q-0.2)","as":"v"}],"mark":{"type":"point","filled":true,"opacity":1,"size":950},"encoding":{"color":{"field":"kind","type":"nominal","scale":{"domain":["Measuring point","SEM / Fracture surface"],"range":["#231f20","#ee2a2e"]},"legend":null}}},
{"data":{"name":"tempTicks"},"transform":[{"calculate":"660-2.425*(datum.T-1300)-68","as":"u"},{"calculate":"622-0.77*(datum.T-1300)+32","as":"v"}],"mark":{"type":"text","fontSize":66,"color":"#4d4d4f","align":"center","baseline":"middle"},"encoding":{"text":{"field":"T"}}},
{"data":{"name":"presTicks"},"transform":[{"calculate":"660+7.95*(datum.p-20)+29","as":"u"},{"calculate":"622-1.4625*(datum.p-20)+35","as":"v"}],"mark":{"type":"text","fontSize":66,"color":"#4d4d4f","align":"left","baseline":"middle"},"encoding":{"text":{"field":"p"}}},
{"data":{"name":"qTicks"},"transform":[{"calculate":"140","as":"u"},{"calculate":"470-412.5*(datum.Q-0.2)-4","as":"v"}],"mark":{"type":"text","fontSize":66,"color":"#4d4d4f","align":"right","baseline":"middle"},"encoding":{"text":{"field":"Q"}}},
{"data":{"values":[{"Q":0.4},{"Q":0.6},{"Q":0.8}]},"transform":[{"calculate":"1413","as":"u"},{"calculate":"1423","as":"u2"},{"calculate":"622-747.5*(datum.Q-0.2)","as":"v"}],"mark":{"type":"rule","stroke":"#4d4d4f","strokeWidth":3},"encoding":{"x2":{"field":"u2"}}},
{"data":{"values":[{"label":"Measuring point","n":0},{"label":"SEM / Fracture surface","n":1}]},"transform":[{"calculate":"297","as":"u"},{"calculate":"[142,184][datum.n]","as":"v"}],"mark":{"type":"point","filled":true,"opacity":1,"size":950},"encoding":{"color":{"field":"label","type":"nominal","scale":{"domain":["Measuring point","SEM / Fracture surface"],"range":["#231f20","#ee2a2e"]},"legend":null}}},
{"data":{"values":[{"label":"Interpolation"}]},"transform":[{"calculate":"263","as":"u"},{"calculate":"334","as":"u2"},{"calculate":"210","as":"v"},{"calculate":"242","as":"v2"}],"mark":{"type":"rect","fill":"#929497","stroke":"#231f20","strokeWidth":5},"encoding":{"x2":{"field":"u2"},"y2":{"field":"v2"}}},
{"data":{"values":[{"label":"Measuring point","n":0},{"label":"SEM / Fracture surface","n":1},{"label":"Interpolation","n":2}]},"transform":[{"calculate":"340","as":"u"},{"calculate":"[148,190,232][datum.n]","as":"v"}],"mark":{"type":"text","fontSize":59,"color":"#231f20","align":"left","baseline":"middle"},"encoding":{"text":{"field":"label"}}},
{"data":{"values":[{"label":"T [°C]","n":0},{"label":"p","n":1},{"label":"[MPa]","n":2}]},"transform":[{"calculate":"[255,978,1048][datum.n]","as":"u"},{"calculate":"[642,657,656][datum.n]","as":"v"}],"mark":{"type":"text","fontSize":66,"color":"#4d4d4f","align":"center","baseline":"middle"},"encoding":{"text":{"field":"label"}}},
{"data":{"values":[{"label":"c"}]},"transform":[{"calculate":"995","as":"u"},{"calculate":"666","as":"v"}],"mark":{"type":"text","fontSize":40,"color":"#4d4d4f","align":"center","baseline":"middle"},"encoding":{"text":{"field":"label"}}},
{"data":{"values":[{"label":"Q","n":0},{"label":"=","n":1},{"label":"F","n":2},{"label":"/","n":3},{"label":"F","n":4},{"label":"Q","n":5},{"label":"=","n":6},{"label":"F","n":7},{"label":"/","n":8},{"label":"F","n":9}]},"transform":[{"calculate":"[54,55.6,53,54,53,1511,1513,1510,1512,1510][datum.n]","as":"u"},{"calculate":"[432,351.5,327,247,224.5,433,363,340,268,251][datum.n]","as":"v"}],"mark":{"type":"text","fontSize":66,"angle":270,"color":"#4d4d4f","align":"center","baseline":"middle"},"encoding":{"text":{"field":"label"}}},
{"data":{"values":[{"label":"WS","n":0},{"label":"WS","n":1},{"label":"BM","n":2},{"label":"WS","n":3},{"label":"WS","n":4},{"label":"BM","n":5}]},"transform":[{"calculate":"[73,73,73,1529,1529,1529][datum.n]","as":"u"},{"calculate":"[398,288.6,190.5,402,306,219][datum.n]","as":"v"}],"mark":{"type":"text","fontSize":50,"angle":270,"color":"#4d4d4f","align":"center","baseline":"middle"},"encoding":{"text":{"field":"label"}}}
]
}
